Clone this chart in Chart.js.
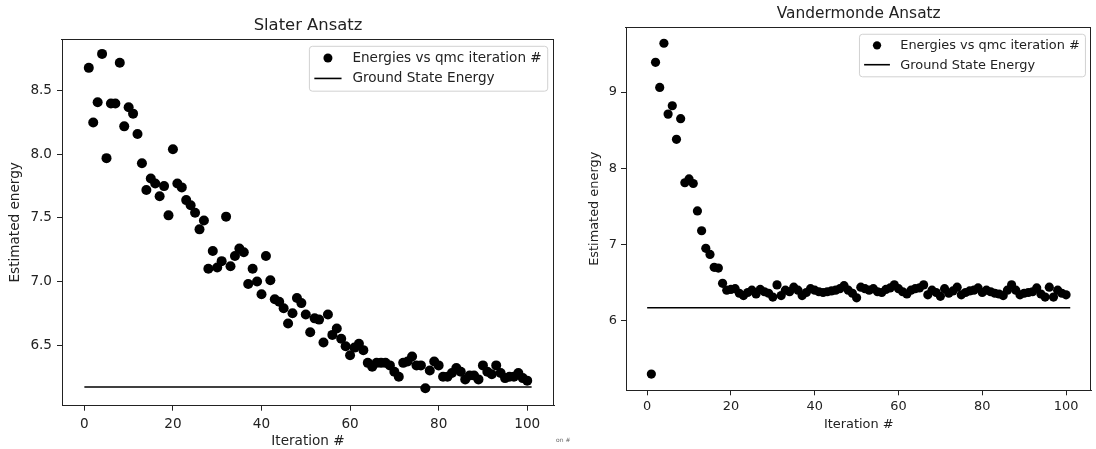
<!DOCTYPE html>
<html>
<head>
<meta charset="utf-8">
<script src="https://cdn.jsdelivr.net/npm/chart.js@4.4.0/dist/chart.umd.min.js"></script>
<style>
  html, body { margin: 0; padding: 0; background: #fff; width: 1096px; height: 449px; overflow: hidden; position: relative; }
  canvas { position: absolute; top: 0; }
  #slater { left: 0; }
  #vander { left: 560px; }
  #stray { position: absolute; left: 556px; top: 436px; font: 6px "DejaVu Sans"; color: #666; }
</style>
</head>
<body>
<canvas id="slater" width="560" height="449"></canvas>
<canvas id="vander" width="536" height="449"></canvas>
<div id="stray">on #</div>
<script>
// qmc iteration numbers
const iterations = [
  1, 2, 3, 4, 5, 6, 7, 8, 9, 10, 11, 12, 13, 14, 15, 16, 17, 18, 19, 20,
  21, 22, 23, 24, 25, 26, 27, 28, 29, 30, 31, 32, 33, 34, 35, 36, 37, 38, 39, 40,
  41, 42, 43, 44, 45, 46, 47, 48, 49, 50, 51, 52, 53, 54, 55, 56, 57, 58, 59, 60,
  61, 62, 63, 64, 65, 66, 67, 68, 69, 70, 71, 72, 73, 74, 75, 76, 77, 78, 79, 80,
  81, 82, 83, 84, 85, 86, 87, 88, 89, 90, 91, 92, 93, 94, 95, 96, 97, 98, 99, 100
];

// Slater ansatz energies
const slaterEnergies = [
  8.68, 8.25, 8.41, 8.79, 7.97, 8.40, 8.40, 8.72, 8.22, 8.37,
  8.32, 8.16, 7.93, 7.72, 7.81, 7.77, 7.67, 7.75, 7.52, 8.04,
  7.77, 7.74, 7.64, 7.60, 7.54, 7.41, 7.48, 7.10, 7.24, 7.11,
  7.16, 7.51, 7.12, 7.20, 7.26, 7.23, 6.98, 7.10, 7.00, 6.90,
  7.20, 7.01, 6.86, 6.84, 6.79, 6.67, 6.75, 6.87, 6.83, 6.74,
  6.60, 6.71, 6.70, 6.52, 6.74, 6.58, 6.63, 6.55, 6.49, 6.42,
  6.48, 6.51, 6.46, 6.36, 6.33, 6.36, 6.36, 6.36, 6.34, 6.29,
  6.25, 6.36, 6.37, 6.41, 6.34, 6.34, 6.16, 6.30, 6.37, 6.34,
  6.25, 6.25, 6.28, 6.32, 6.29, 6.23, 6.26, 6.26, 6.23, 6.34,
  6.29, 6.27, 6.34, 6.28, 6.24, 6.25, 6.25, 6.28, 6.24, 6.22
];

// Vandermonde ansatz energies
const vanderEnergies = [
  5.30, 9.39, 9.06, 9.64, 8.71, 8.82, 8.38, 8.65, 7.81, 7.86,
  7.80, 7.44, 7.18, 6.95, 6.87, 6.70, 6.69, 6.49, 6.40, 6.41,
  6.42, 6.36, 6.33, 6.37, 6.40, 6.35, 6.41, 6.38, 6.36, 6.31,
  6.47, 6.33, 6.40, 6.38, 6.44, 6.40, 6.33, 6.37, 6.42, 6.40,
  6.38, 6.37, 6.38, 6.39, 6.40, 6.42, 6.46, 6.40, 6.36, 6.30,
  6.44, 6.42, 6.40, 6.42, 6.38, 6.37, 6.41, 6.43, 6.47, 6.42,
  6.38, 6.35, 6.40, 6.42, 6.43, 6.47, 6.34, 6.40, 6.37, 6.32,
  6.42, 6.36, 6.39, 6.44, 6.34, 6.37, 6.39, 6.40, 6.43, 6.37,
  6.40, 6.38, 6.36, 6.35, 6.33, 6.40, 6.47, 6.40, 6.34, 6.36,
  6.37, 6.38, 6.43, 6.35, 6.31, 6.44, 6.31, 6.40, 6.36, 6.34
];

const groundStateEnergy = 6.17;
const groundLineX = [0, 101];

const xTicks = [0, 20, 40, 60, 80, 100];
const slaterYTicks = [6.5, 7.0, 7.5, 8.0, 8.5];
const vanderYTicks = [6, 7, 8, 9];

const FONT = 'DejaVu Sans';
const INK = '#222';

// title, frame and matplotlib-like legend drawn on top of the chart area
function decorPlugin(title, titleSize, fs, dotR) {
  return {
    id: 'mplDecor',
    afterDraw(chart) {
      const ctx = chart.ctx;
      const a = chart.chartArea;
      ctx.save();
      // top and right spines (left/bottom come from the axis borders)
      const L = Math.round(a.left), T = Math.round(a.top);
      const R = Math.round(a.right), B = Math.round(a.bottom);
      ctx.fillStyle = INK;
      ctx.fillRect(L - 1, T, R - L + 1, 1);
      ctx.fillRect(R - 1, T, 1, B - T);

      // title
      ctx.font = titleSize + 'px "' + FONT + '"';
      ctx.textAlign = 'center';
      ctx.textBaseline = 'alphabetic';
      ctx.fillText(title, (a.left + a.right) / 2, a.top - 9.3);

      // legend
      const labels = chart.data.datasets.map(d => d.label);
      ctx.font = fs + 'px "' + FONT + '"';
      const tw = Math.max(...labels.map(l => ctx.measureText(l).width));
      const pad = 0.4 * fs, handle = 2 * fs, gap = 0.8 * fs, rowH = fs, spacing = 0.5 * fs;
      const w = pad + handle + gap + tw + pad;
      const h = 2 * pad + labels.length * rowH + (labels.length - 1) * spacing;
      const x0 = a.right - 0.5 * fs - w;
      const y0 = a.top + 0.5 * fs;
      ctx.beginPath();
      ctx.roundRect(x0 + 0.5, y0 + 0.5, w, h, 3);
      ctx.fillStyle = 'rgba(255,255,255,0.8)';
      ctx.fill();
      ctx.lineWidth = 1;
      ctx.strokeStyle = 'rgba(204,204,204,0.9)';
      ctx.stroke();

      chart.data.datasets.forEach((d, i) => {
        const cy = y0 + pad + rowH / 2 + i * (rowH + spacing);
        ctx.fillStyle = '#000';
        ctx.strokeStyle = '#000';
        if (d.showLine === false) {
          ctx.beginPath();
          ctx.arc(x0 + pad + handle / 2, cy, dotR * 0.9, 0, Math.PI * 2);
          ctx.fill();
        } else {
          ctx.lineWidth = 1.6;
          ctx.beginPath();
          ctx.moveTo(x0 + pad, cy);
          ctx.lineTo(x0 + pad + handle, cy);
          ctx.stroke();
        }
        ctx.fillStyle = INK;
        ctx.textAlign = 'left';
        ctx.textBaseline = 'middle';
        ctx.fillText(d.label, x0 + pad + handle + gap, cy + 0.5);
      });
      ctx.restore();
    }
  };
}

function makeChart(id, cfg) {
  const ctx = document.getElementById(id).getContext('2d');
  return new Chart(ctx, {
    type: 'scatter',
    data: {
      datasets: [
        {
          label: 'Energies vs qmc iteration #',
          data: iterations.map((it, i) => ({ x: it, y: cfg.energies[i] })),
          showLine: false,
          pointRadius: cfg.dotR,
          pointHoverRadius: cfg.dotR,
          pointBackgroundColor: '#000',
          pointBorderWidth: 0
        },
        {
          label: 'Ground State Energy',
          data: groundLineX.map(x => ({ x: x, y: groundStateEnergy })),
          showLine: true,
          borderColor: '#000',
          borderWidth: 1.6,
          pointRadius: 0
        }
      ]
    },
    options: {
      responsive: false,
      animation: false,
      events: [],
      layout: { padding: cfg.padding },
      plugins: {
        legend: { display: false },
        tooltip: { enabled: false },
        title: { display: false }
      },
      scales: {
        x: {
          type: 'linear',
          min: -5.05,
          max: 106.05,
          afterBuildTicks: s => { s.ticks = xTicks.map(v => ({ value: v })); },
          afterFit: s => { s.height = cfg.xAxisH; },
          grid: { drawOnChartArea: false, drawTicks: true, tickLength: 5, tickColor: INK, tickWidth: 1 },
          border: { display: true, color: INK, width: 1 },
          ticks: { color: INK, font: { family: FONT, size: cfg.fs }, padding: cfg.xTickPad, maxRotation: 0, autoSkip: false },
          title: { display: true, text: 'Iteration #', color: INK, font: { family: FONT, size: cfg.fs, lineHeight: 1 }, padding: { top: 0, bottom: cfg.xTitlePad } }
        },
        y: {
          type: 'linear',
          min: cfg.yMin,
          max: cfg.yMax,
          afterBuildTicks: s => { s.ticks = cfg.yTicks.map(v => ({ value: v })); },
          afterFit: s => { s.width = cfg.yAxisW; },
          grid: { drawOnChartArea: false, drawTicks: true, tickLength: 5, tickColor: INK, tickWidth: 1 },
          border: { display: true, color: INK, width: 1 },
          ticks: { color: INK, font: { family: FONT, size: cfg.fs }, padding: cfg.yTickPad, callback: cfg.fmt },
          title: { display: true, text: 'Estimated energy', color: INK, font: { family: FONT, size: cfg.fs, lineHeight: 1 }, padding: { top: cfg.yTitlePad, bottom: 0 } }
        }
      }
    },
    plugins: [decorPlugin(cfg.title, cfg.titleSize, cfg.fs, cfg.dotR)]
  });
}

makeChart('slater', {
  title: 'Slater Ansatz',
  energies: slaterEnergies,
  yTicks: slaterYTicks,
  fmt: v => v.toFixed(1),
  yMin: 6.023, yMax: 8.907,
  fs: 13.6, titleSize: 16.4, dotR: 5,
  padding: { top: 39, right: 6, bottom: 0, left: 0 },
  xAxisH: 43.3, yAxisW: 62,
  xTickPad: 5.5, yTickPad: 5,
  xTitlePad: 1, yTitlePad: 8.4
});

makeChart('vander', {
  title: 'Vandermonde Ansatz',
  energies: vanderEnergies,
  yTicks: vanderYTicks,
  fmt: v => String(v),
  yMin: 5.087, yMax: 9.849,
  fs: 12.9, titleSize: 15.4, dotR: 4.6,
  padding: { top: 27.3, right: 0.7, bottom: 0, left: 0 },
  xAxisH: 58.7, yAxisW: 66,
  xTickPad: 4, yTickPad: 4,
  xTitlePad: 18.3, yTitlePad: 28.5
});
</script>
</body>
</html>
